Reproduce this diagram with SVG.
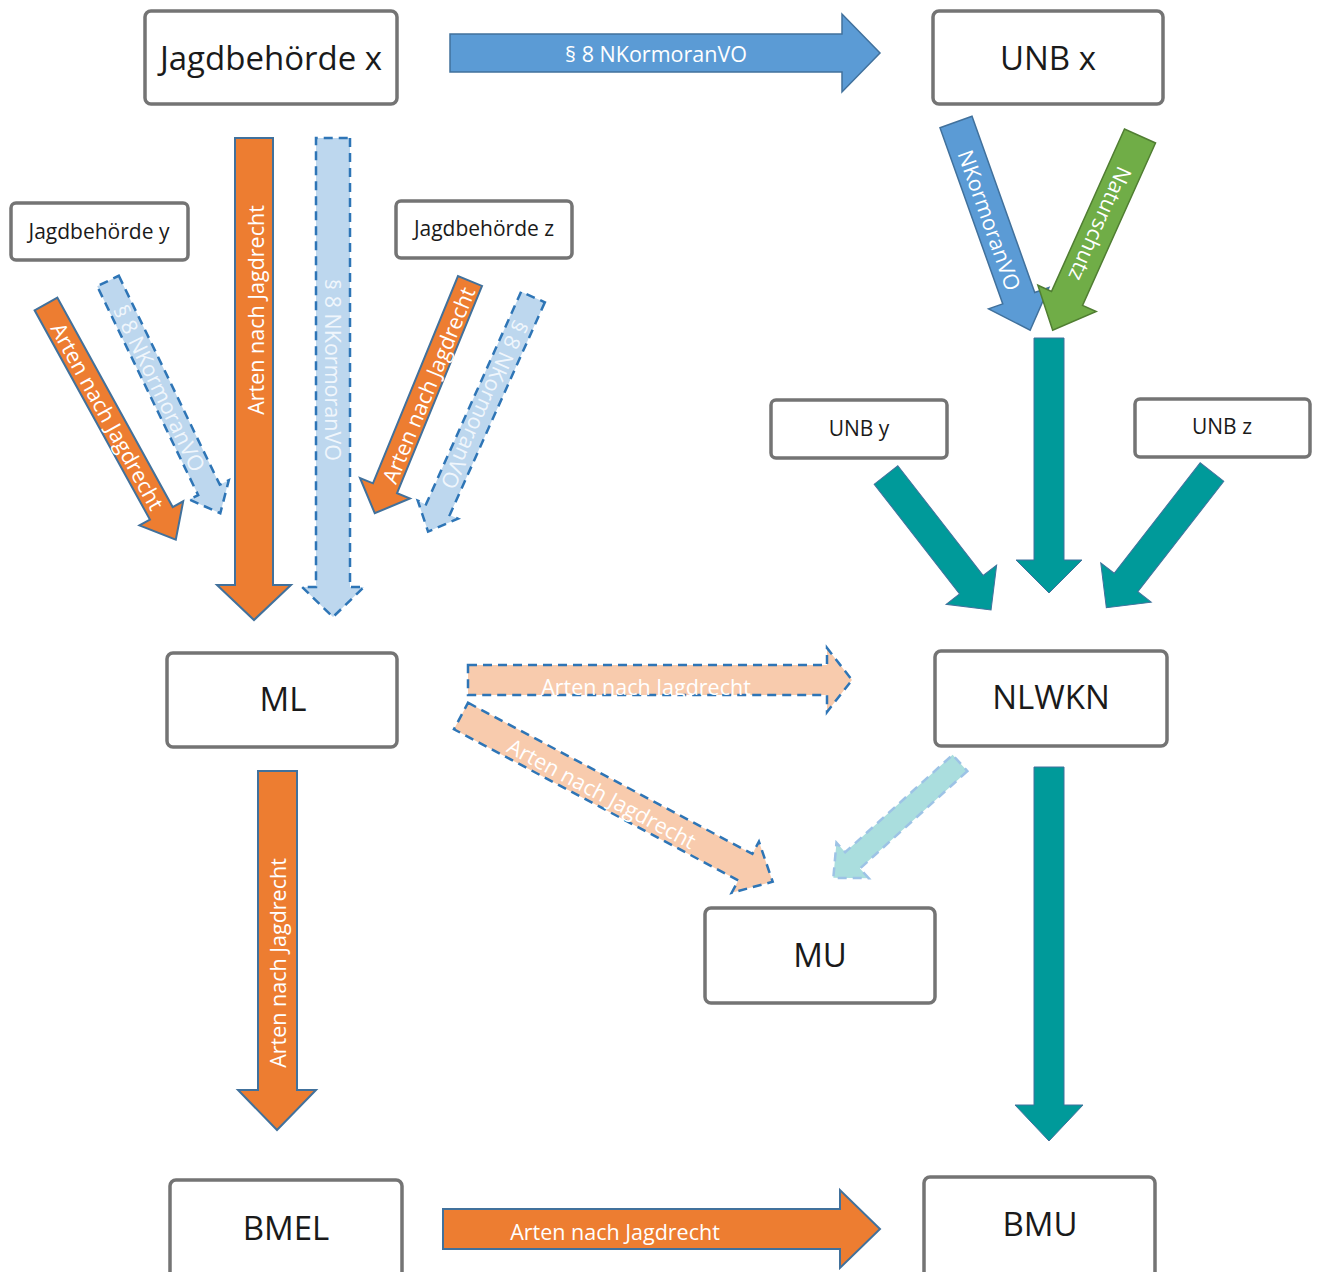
<svg xmlns="http://www.w3.org/2000/svg" width="1319" height="1272" viewBox="0 0 1319 1272">
<style>
.box{fill:#fff;stroke:#747474;stroke-width:3.5}
.big{font-family:"Open Sans","Liberation Sans",sans-serif;font-size:33px;fill:#1a1a1a;text-anchor:middle;dominant-baseline:central}
.small{font-family:"Open Sans","Liberation Sans",sans-serif;font-size:21px;fill:#1a1a1a;text-anchor:middle;dominant-baseline:central}
.lbl{font-family:"Open Sans","Liberation Sans",sans-serif;font-size:21.5px;fill:#fff;text-anchor:middle;dominant-baseline:central}
.pale{fill:#f0f6fc}
.orange{fill:#ed7d31;stroke:#41719c;stroke-width:2}
.blue{fill:#5b9bd5;stroke:#41719c;stroke-width:1.5}
.green{fill:#70ad47;stroke:#507e32;stroke-width:1.5}
.teal{fill:#009a9a;stroke:#41719c;stroke-width:1}
.ltblue{fill:#bdd7ee;stroke:#2e75b6;stroke-width:2.5;stroke-dasharray:9 6}
.peach{fill:#f8cbad;stroke:#2e75b6;stroke-width:2.5;stroke-dasharray:9 6}
.mint{fill:#aadede;stroke:#9dc3e6;stroke-width:2.5;stroke-dasharray:9 6}
</style>
<rect width="1319" height="1272" fill="#fff"/>
<g id="connectors">
  <path class="blue" d="M450,34 H842 V14 L880,53 L842,92 V72 H450Z"/>
  <path class="orange" transform="translate(254,138) rotate(90)" d="M0,-19 H447 V-37 L482,0 L447,37 V19 H0Z"/>
  <path class="ltblue" transform="translate(333,138) rotate(90)" d="M0,-17 H449 V-31 L479,0 L449,31 V17 H0Z"/>
  <path class="orange" transform="translate(46,304) rotate(61.15)" d="M0,-13 H239 V-25 L269,0 L239,25 V13 H0Z"/>
  <path class="ltblue" transform="translate(108,281) rotate(64.2)" d="M0,-12 H232 V-22 L258,0 L232,22 V12 H0Z"/>
  <path class="orange" transform="translate(470,281) rotate(112.3)" d="M0,-13 H224 V-27 L251,0 L224,27 V13 H0Z"/>
  <path class="ltblue" transform="translate(533,297) rotate(114.1)" d="M0,-13 H233 V-22 L257,0 L233,22 V13 H0Z"/>
  <path class="blue" transform="translate(956,122) rotate(70.4)" d="M0,-17 H187 V-32 L221,0 L187,32 V17 H0Z"/>
  <path class="green" transform="translate(1140,136) rotate(114.2)" d="M0,-17 H178 V-32 L213,0 L178,32 V17 H0Z"/>
  <path class="teal" d="M1034,338 H1064 V560 H1082 L1049,593 L1016,560 H1034Z"/>
  <path class="teal" transform="translate(886,475) rotate(52.1)" d="M0,-15 H139 V-32 L171,0 L139,32 V15 H0Z"/>
  <path class="teal" transform="translate(1212,472) rotate(127.9)" d="M0,-15 H140 V-32 L172,0 L140,32 V15 H0Z"/>
  <path class="peach" d="M468,665 H827 V648 L852,680 L827,712 V695 H468Z"/>
  <path class="peach" transform="translate(461,716) rotate(28)" d="M0,-15 H322 V-29 L353,0 L322,29 V15 H0Z"/>
  <path class="mint" transform="translate(960,763) rotate(137.8)" d="M0,-11 H145 V-24 L171,0 L145,24 V11 H0Z"/>
  <path class="teal" d="M1034,767 H1064 V1105 H1083 L1049,1141 L1015,1105 H1034Z"/>
  <path class="orange" d="M258,771 H297 V1090 H316 L277,1130 L238,1090 H258Z"/>
  <path class="orange" d="M443,1209 H840 V1190 L880,1229 L840,1268 V1249 H443Z"/>

  <text class="lbl" x="656" y="53">§ 8 NKormoranVO</text>
  <text class="lbl" transform="translate(255,310) rotate(-90)">Arten nach Jagdrecht</text>
  <text class="lbl pale" transform="translate(333,370) rotate(90)">§ 8 NKormoranVO</text>
  <text class="lbl" transform="translate(108,416) rotate(61.15)">Arten nach Jagdrecht</text>
  <text class="lbl pale" transform="translate(160,388) rotate(64.2)">§ 8 NKormoranVO</text>
  <text class="lbl" transform="translate(428,385) rotate(-67.7)">Arten nach Jagdrecht</text>
  <text class="lbl pale" transform="translate(485,405) rotate(114.1)">§ 8 NKormoranVO</text>
  <text class="lbl" transform="translate(990,220) rotate(70.4)">NKormoranVO</text>
  <text class="lbl" transform="translate(1101,224) rotate(114.2)">Naturschutz</text>
  <text class="lbl" x="646" y="686">Arten nach Jagdrecht</text>
  <text class="lbl" transform="translate(602,793) rotate(28)">Arten nach Jagdrecht</text>
  <text class="lbl" transform="translate(277,963) rotate(-90)">Arten nach Jagdrecht</text>
  <text class="lbl" x="615" y="1231">Arten nach Jagdrecht</text>
</g>
<g id="node-jagd-x"><rect class="box" x="145" y="11" width="252" height="93" rx="6"/><text class="big" x="271" y="57">Jagdbehörde x</text></g>
<g id="node-unb-x"><rect class="box" x="933" y="11" width="230" height="93" rx="6"/><text class="big" x="1048" y="57">UNB x</text></g>
<g id="node-jagd-y"><rect class="box" x="11" y="203" width="177" height="57" rx="5"/><text class="small" x="99" y="231">Jagdbehörde y</text></g>
<g id="node-jagd-z"><rect class="box" x="396" y="201" width="176" height="57" rx="5"/><text class="small" x="484" y="228">Jagdbehörde z</text></g>
<g id="node-unb-y"><rect class="box" x="771" y="400" width="176" height="58" rx="5"/><text class="small" x="859" y="428">UNB y</text></g>
<g id="node-unb-z"><rect class="box" x="1135" y="399" width="175" height="58" rx="5"/><text class="small" x="1222" y="426">UNB z</text></g>
<g id="node-ml"><rect class="box" x="167" y="653" width="230" height="94" rx="6"/><text class="big" x="283" y="698">ML</text></g>
<g id="node-nlwkn"><rect class="box" x="935" y="651" width="232" height="95" rx="6"/><text class="big" x="1051" y="696">NLWKN</text></g>
<g id="node-mu"><rect class="box" x="705" y="908" width="230" height="95" rx="6"/><text class="big" x="820" y="954">MU</text></g>
<g id="node-bmel"><rect class="box" x="170" y="1180" width="232" height="100" rx="6"/><text class="big" x="286" y="1227">BMEL</text></g>
<g id="node-bmu"><rect class="box" x="924" y="1177" width="231" height="103" rx="6"/><text class="big" x="1040" y="1223">BMU</text></g>
</svg>
